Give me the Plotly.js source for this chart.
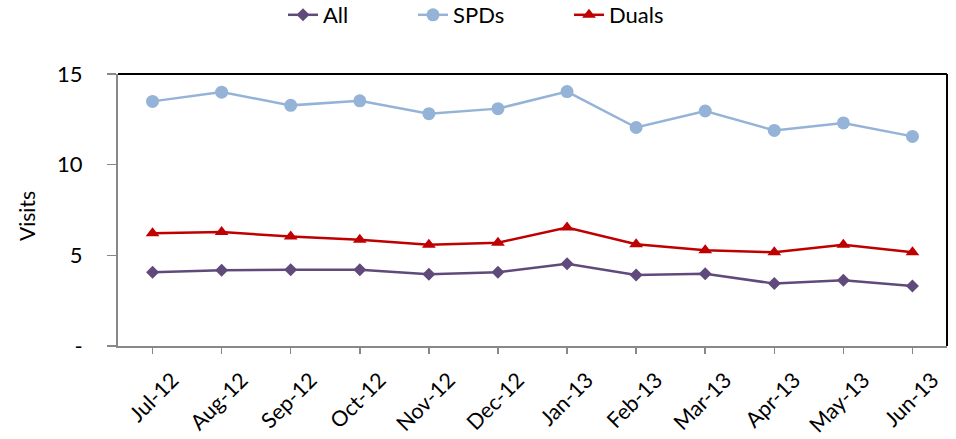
<!DOCTYPE html>
<html><head><meta charset="utf-8">
<script src="https://cdn.plot.ly/plotly-3.0.1.min.js"></script>
<style>body{margin:0;padding:0;background:#fff}#chart{width:956px;height:439px}</style>
</head><body><div id="chart"></div>
<script>
const months = ["Jul-12","Aug-12","Sep-12","Oct-12","Nov-12","Dec-12","Jan-13","Feb-13","Mar-13","Apr-13","May-13","Jun-13"];
const allVals = [4.07,4.18,4.21,4.21,3.96,4.07,4.53,3.92,3.99,3.44,3.63,3.31];
const spdVals = [13.49,14.0,13.27,13.52,12.81,13.09,14.03,12.05,12.96,11.89,12.30,11.56];
const dualVals = [6.22,6.28,6.04,5.86,5.58,5.70,6.53,5.61,5.28,5.17,5.58,5.17];
const yTickVals = [0,5,10,15];
const yTickText = ["-","5","10","15"];

const font = "Lato, 'Liberation Sans', sans-serif";
const L = 118, R = 9, T = 74, B = 93, W = 956, H = 439;
const pw = W - L - R, ph = H - T - B;
const px2x = p => (p - L) / pw;
const py2y = p => (H - B - p) / ph;

const traces = [
  {x: months, y: allVals, name: "All", type: "scatter", mode: "lines+markers", legend: "legend",
   line: {color: "#604A7B", width: 2.5}, marker: {symbol: "diamond", size: 10, color: "#604A7B"}},
  {x: months, y: spdVals, name: "SPDs", type: "scatter", mode: "lines+markers", legend: "legend2",
   line: {color: "#95B3D7", width: 2.5}, marker: {symbol: "circle", size: 13, color: "#95B3D7"}},
  {x: months, y: dualVals, name: "Duals", type: "scatter", mode: "lines+markers", legend: "legend3",
   line: {color: "#C00000", width: 2.5}, marker: {symbol: "triangle-up", size: 12, color: "#C00000"}}
];
const legFont = {family: font, size: 22, color: "#000"};
const mkLeg = (textStart) => ({orientation: "h", x: px2x(textStart - 42), xanchor: "left",
  y: py2y(15), yanchor: "middle", font: legFont, bgcolor: "rgba(0,0,0,0)"});
const layout = {
  width: W, height: H,
  margin: {l: L, r: R, t: T, b: B, autoexpand: false},
  paper_bgcolor: "#fff", plot_bgcolor: "#fff",
  font: {family: font, size: 20, color: "#000"},
  showlegend: true,
  legend: mkLeg(325),
  legend2: mkLeg(455),
  legend3: mkLeg(611),
  xaxis: {type: "category", range: [-0.5, 11.5], showgrid: false, zeroline: false,
          showline: true, linecolor: "#888", linewidth: 2,
          ticks: "outside", ticklen: 6, tickcolor: "#888", tickwidth: 1.5,
          tickangle: -45, ticklabelshift: 20, ticklabelstandoff: 5,
          tickfont: {family: font, size: 21.5, color: "#000"}},
  yaxis: {range: [0, 15], tickvals: yTickVals, ticktext: yTickText, showgrid: false, zeroline: false,
          showline: true, linecolor: "#888", linewidth: 2,
          ticks: "outside", ticklen: 9, tickcolor: "#888", tickwidth: 1.5,
          ticklabelstandoff: 20,
          tickfont: {family: font, size: 22, color: "#000"}},
  annotations: [
    {text: "Visits", xref: "paper", yref: "paper", x: px2x(27), y: py2y(216),
     xanchor: "center", yanchor: "middle", textangle: -90, showarrow: false,
     font: {family: font, size: 21, color: "#000"}}
  ],
  shapes: [
    {type: "line", xref: "paper", yref: "paper", x0: 0, x1: 1, y0: 1, y1: 1, line: {color: "#000", width: 2}},
    {type: "line", xref: "paper", yref: "paper", x0: 1, x1: 1, y0: 0, y1: 1, line: {color: "#000", width: 2}}
  ]
};
Plotly.newPlot("chart", traces, layout, {displayModeBar: false, staticPlot: true});
</script></body></html>
